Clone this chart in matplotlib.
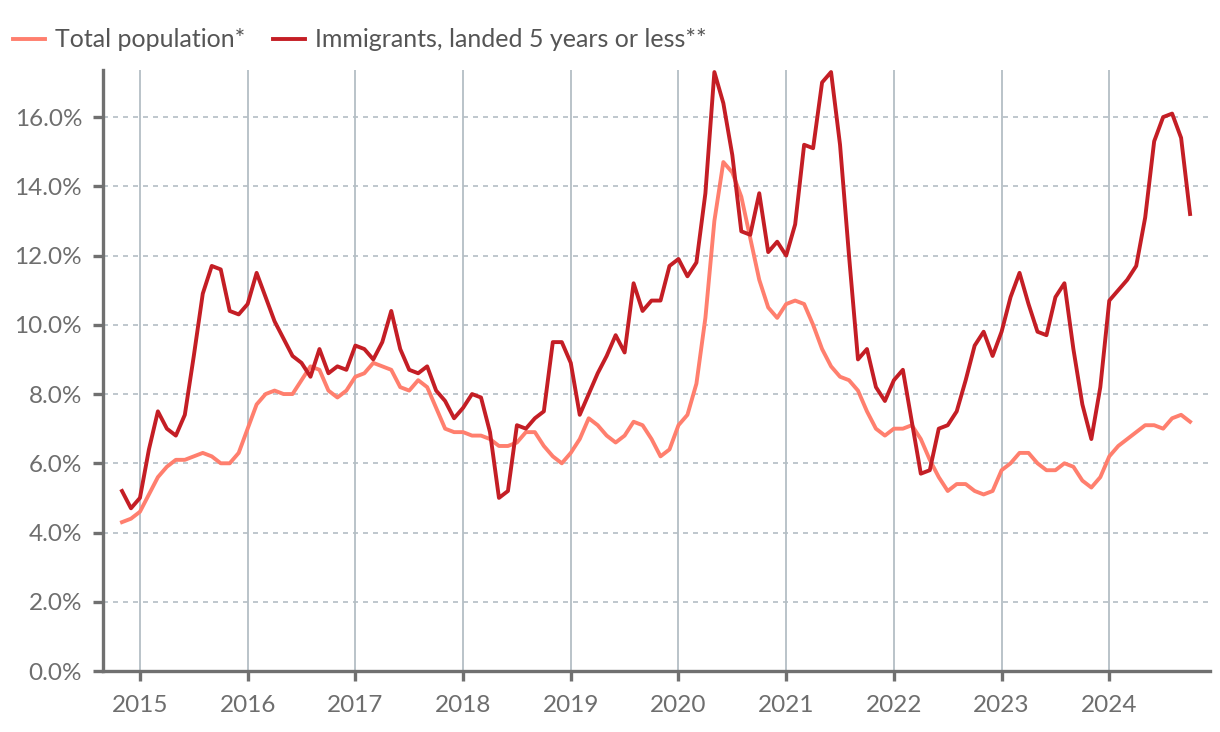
import numpy as np
import pandas as pd
import matplotlib
matplotlib.use("Agg")
import matplotlib.pyplot as plt
from matplotlib.ticker import FuncFormatter

# Monthly data, Nov 2014 - Oct 2024 (percent)
months = pd.date_range("2014-11-01", "2024-10-01", freq="MS")

total_population = [
    4.3, 4.4,
    4.6, 5.1, 5.6, 5.9, 6.1, 6.1, 6.2, 6.3, 6.2, 6.0, 6.0, 6.3,
    7.0, 7.7, 8.0, 8.1, 8.0, 8.0, 8.4, 8.8, 8.7, 8.1, 7.9, 8.1,
    8.5, 8.6, 8.9, 8.8, 8.7, 8.2, 8.1, 8.4, 8.2, 7.6, 7.0, 6.9,
    6.9, 6.8, 6.8, 6.7, 6.5, 6.5, 6.6, 6.9, 6.9, 6.5, 6.2, 6.0,
    6.3, 6.7, 7.3, 7.1, 6.8, 6.6, 6.8, 7.2, 7.1, 6.7, 6.2, 6.4,
    7.1, 7.4, 8.3, 10.2, 13.0, 14.7, 14.4, 13.7, 12.5, 11.3, 10.5, 10.2,
    10.6, 10.7, 10.6, 10.0, 9.3, 8.8, 8.5, 8.4, 8.1, 7.5, 7.0, 6.8,
    7.0, 7.0, 7.1, 6.7, 6.1, 5.6, 5.2, 5.4, 5.4, 5.2, 5.1, 5.2,
    5.8, 6.0, 6.3, 6.3, 6.0, 5.8, 5.8, 6.0, 5.9, 5.5, 5.3, 5.6,
    6.2, 6.5, 6.7, 6.9, 7.1, 7.1, 7.0, 7.3, 7.4, 7.2,
]

recent_immigrants = [
    5.2, 4.7,
    5.0, 6.4, 7.5, 7.0, 6.8, 7.4, 9.1, 10.9, 11.7, 11.6, 10.4, 10.3,
    10.6, 11.5, 10.8, 10.1, 9.6, 9.1, 8.9, 8.5, 9.3, 8.6, 8.8, 8.7,
    9.4, 9.3, 9.0, 9.5, 10.4, 9.3, 8.7, 8.6, 8.8, 8.1, 7.8, 7.3,
    7.6, 8.0, 7.9, 6.9, 5.0, 5.2, 7.1, 7.0, 7.3, 7.5, 9.5, 9.5,
    8.9, 7.4, 8.0, 8.6, 9.1, 9.7, 9.2, 11.2, 10.4, 10.7, 10.7, 11.7,
    11.9, 11.4, 11.8, 13.8, 17.3, 16.4, 14.9, 12.7, 12.6, 13.8, 12.1, 12.4,
    12.0, 12.9, 15.2, 15.1, 17.0, 17.3, 15.2, 12.0, 9.0, 9.3, 8.2, 7.8,
    8.4, 8.7, 7.2, 5.7, 5.8, 7.0, 7.1, 7.5, 8.4, 9.4, 9.8, 9.1,
    9.8, 10.8, 11.5, 10.6, 9.8, 9.7, 10.8, 11.2, 9.3, 7.7, 6.7, 8.2,
    10.7, 11.0, 11.3, 11.7, 13.1, 15.3, 16.0, 16.1, 15.4, 13.2,
]

years = list(range(2015, 2025))
y_ticks = [0, 2, 4, 6, 8, 10, 12, 14, 16]

# decimal year positions
x = months.year + (months.month - 1) / 12

plt.rcParams['font.family'] = ['Lato', 'DejaVu Sans']

fig = plt.figure(figsize=(12.2, 7.32), dpi=100)
ax = fig.add_axes([0.0844, 0.0833, 0.9074, 0.8211])

ax.plot(x, total_population, color='#FF7F6E', lw=2.8, label='Total population*', zorder=3)
ax.plot(x, recent_immigrants, color='#C41E25', lw=2.8, label='Immigrants, landed 5 years or less**', zorder=4)

ax.set_xlim(2015 - 4.12 / 12, 2024.935)
ax.set_ylim(0, 17.36)
ax.set_xticks(years)
ax.set_yticks(y_ticks)
ax.yaxis.set_major_formatter(FuncFormatter(lambda v, p: f"{v:.1f}%"))

ax.grid(axis='y', color='#B4BEC5', linestyle=(0, (3, 3)), lw=1.2)
ax.grid(axis='x', color='#B4BEC5', linestyle='-', lw=1.3)
ax.set_axisbelow(True)

for s in ['top', 'right']:
    ax.spines[s].set_visible(False)
for s in ['left', 'bottom']:
    ax.spines[s].set_color('#707070')
    ax.spines[s].set_linewidth(2.4)

ax.tick_params(axis='both', colors='#707070', width=2.4, length=7,
               labelsize=17.5, labelcolor='#6E6E6E')
ax.tick_params(axis='x', pad=10)
ax.tick_params(axis='y', pad=8)

fig.legend(loc='upper left', bbox_to_anchor=(-0.008, 0.992), ncol=2, frameon=False,
           fontsize=18, handlelength=1.3, handletextpad=0.4, columnspacing=1.1,
           labelcolor='#555555')

fig.savefig("out.png", dpi=100)
